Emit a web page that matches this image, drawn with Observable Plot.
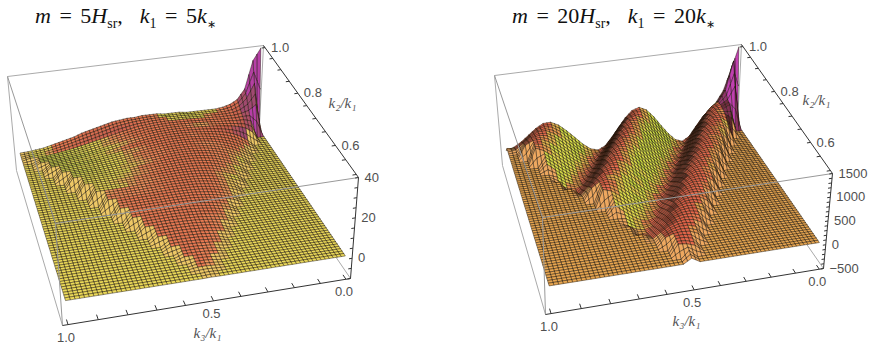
<!DOCTYPE html>
<html><head><meta charset="utf-8">
<script src="https://cdn.jsdelivr.net/npm/d3@7"></script>
<script src="https://cdn.jsdelivr.net/npm/@observablehq/plot@0.6"></script>
<style>
html,body{margin:0;padding:0;background:#fff;width:872px;height:351px;overflow:hidden}
#page{display:flex;width:872px}
.panel{width:436px;position:relative}
.title{height:36px;font:22px "Liberation Serif",serif;color:#111;white-space:nowrap;box-sizing:border-box;padding-top:3px;word-spacing:3px}
.title sub{font-size:14px;line-height:0}
.title sub.s{font-size:11px}
svg{display:block}
</style></head><body><div id="page"></div>
<script>
// Rows run from k2/k1 = 1 (back) to 0.5 (front); each row lists k3/k1 ascending, inside the triangle only.
const heights5 = [
[55,34,20,15,13,12,11.5,11.5,11.5,11.5,11.5,12,12,12,12.5,12.5,12.5,12,12,11.5,11,10,9,8,7,5.5,4.5,3.5,2.5,1.5,1,.5,.3],
[24,17,13.5,12,11.5,11.5,11.5,11.5,11.5,11.8,12,12,12.3,12.3,12.3,12,11.8,11.4,10.8,10,9,8,7,6,5,4,3,2.2,1.5,1,.6],
[15,12.5,11.5,11,11,11,11.2,11.4,11.6,11.8,12,12,12.1,12,11.8,11.4,11,10.2,9.4,8.5,7.6,6.6,5.7,4.8,4,3.2,2.5,1.9,1.4,1.1,1],
[9,10,10,10.3,10.5,10.8,11,11.2,11.4,11.6,11.7,11.7,11.6,11.3,11,10.4,9.8,9,8.2,7.3,6.5,5.6,4.8,4.1,3.4,2.8,2.3,1.9,1.6],
[5,7.5,8.8,9.5,10,10.4,10.7,11,11.2,11.3,11.4,11.4,11.2,11,10.6,10,9.4,8.7,7.9,7.1,6.3,5.5,4.8,4.2,3.6,3.1,2.7,2.4,2.2],
[3,5.5,7.3,8.5,9.3,9.9,10.3,10.6,10.8,11,11,10.9,10.6,10.2,9.7,9.1,8.5,7.7,7,6.3,5.6,5,4.5,4,3.6,3.2,3],
[1.6,4,6,7.4,8.4,9.2,9.8,10.2,10.5,10.6,10.6,10.5,10.2,9.8,9.3,8.7,8.1,7.5,6.8,6.2,5.6,5,4.6,4.2,3.9,3.7,3.6],
[2.6,4.8,6.4,7.6,8.5,9.2,9.7,10,10.2,10.2,10.1,9.8,9.4,9,8.5,7.9,7.3,6.8,6.2,5.7,5.3,4.9,4.6,4.3,4.1],
[1.5,3.6,5.4,6.8,7.9,8.7,9.3,9.6,9.8,9.8,9.7,9.5,9.1,8.7,8.2,7.7,7.2,6.7,6.2,5.8,5.4,5.1,4.8,4.6,4.6],
[2.6,4.4,6,7.2,8.1,8.8,9.2,9.4,9.5,9.4,9.2,8.8,8.4,8,7.5,7.1,6.7,6.3,5.9,5.6,5.4,5.2,5.1],
[1.8,3.5,5.1,6.4,7.5,8.2,8.7,9,9.1,9,8.8,8.5,8.2,7.8,7.4,7,6.6,6.3,6,5.8,5.6,5.5,5.4],
[2.6,4.2,5.6,6.8,7.6,8.2,8.5,8.6,8.6,8.4,8.2,7.9,7.5,7.2,6.9,6.6,6.3,6.1,5.9,5.8,5.7],
[1.8,3.4,4.8,6,7,7.6,8,8.2,8.2,8.1,7.9,7.6,7.3,7,6.8,6.5,6.3,6.1,6,5.9,5.9],
[2.6,4,5.3,6.3,7,7.5,7.7,7.8,7.7,7.5,7.3,7,6.8,6.6,6.4,6.2,6.1,6,6],
[1.9,3.3,4.6,5.7,6.4,6.9,7.2,7.3,7.3,7.2,7,6.8,6.6,6.4,6.3,6.2,6.1,6,6],
[2.6,3.9,5,5.8,6.4,6.8,6.9,6.9,6.9,6.7,6.5,6.4,6.2,6.1,6,5.9,5.9],
[1.9,3.2,4.3,5.2,5.8,6.2,6.4,6.5,6.5,6.4,6.3,6.1,6,5.9,5.8,5.7,5.7],
[2.5,3.6,4.5,5.2,5.7,6,6.1,6.1,6,5.9,5.8,5.7,5.6,5.5,5.4],
[1.8,2.9,3.9,4.6,5.1,5.5,5.7,5.7,5.7,5.6,5.5,5.4,5.3,5.2,5.2],
[2.2,3.2,4,4.6,5,5.2,5.3,5.3,5.2,5.1,5,4.9,4.8],
[1.5,2.6,3.4,4,4.5,4.8,4.9,4.9,4.9,4.8,4.7,4.6,4.5],
[1.9,2.8,3.4,3.9,4.2,4.4,4.5,4.5,4.4,4.3,4.2],
[1.3,2.2,2.9,3.4,3.7,3.9,4,4,4,3.9,3.8],
[1.6,2.4,2.9,3.3,3.5,3.6,3.6,3.5,3.4],
[1,1.8,2.4,2.8,3,3.2,3.2,3.1,3],
[1.3,1.9,2.3,2.6,2.7,2.7,2.6],
[.8,1.4,1.8,2.1,2.3,2.3,2.2],
[1,1.4,1.7,1.8,1.8],
[.6,1,1.3,1.4,1.4],
[.6,.9,.9],
[.3,.6,.6],
[.3],
[.1]];
const heights20 = [
[2400,1050,650,430,290,150,-30,-220,-300,-250,-110,70,270,430,500,450,310,120,-70,-240,-310,-270,-150,10,170,310,390,380,290,160,30,-70,-130],
[1300,720,500,420,265,70,-130,-275,-285,-190,-20,170,355,475,485,385,220,20,-160,-285,-295,-220,-70,90,250,355,385,335,230,90,-20],
[850,600,510,465,350,165,-30,-215,-290,-245,-105,70,260,415,485,435,300,115,-70,-235,-300,-260,-145,10,165,300,380,370,280,155,30],
[560,490,490,410,260,65,-125,-270,-280,-180,-20,165,345,460,470,375,210,20,-155,-280,-290,-210,-65,85,240,345,375,325,220],
[360,460,495,455,340,160,-30,-210,-285,-240,-105,65,255,410,475,425,295,115,-65,-230,-295,-255,-140,10,160,295,370,360,275],
[380,480,480,405,255,65,-120,-265,-270,-180,-20,160,340,450,460,365,205,20,-150,-270,-280,-205,-65,85,235,340,365],
[280,440,480,440,330,155,-30,-200,-275,-230,-100,65,250,395,460,415,285,110,-65,-220,-285,-250,-140,10,155,285,360],
[370,465,465,390,245,65,-120,-255,-265,-175,-20,155,330,435,445,355,200,20,-145,-265,-275,-200,-65,80,230],
[260,430,470,430,325,155,-25,-200,-270,-225,-100,65,245,385,450,405,280,110,-65,-215,-280,-245,-135,10,155],
[370,455,455,385,240,60,-115,-250,-260,-170,-20,150,320,425,435,345,195,20,-140,-260,-265,-195,-60],
[270,420,460,420,315,150,-25,-195,-265,-220,-95,60,240,380,440,395,275,105,-60,-210,-270,-240,-130],
[365,445,445,375,235,60,-115,-245,-250,-165,-15,150,315,420,425,340,190,15,-140,-250,-260],
[280,410,440,410,305,145,-25,-185,-255,-210,-95,60,230,365,425,380,265,100,-60,-205,-265],
[350,430,430,360,225,60,-110,-235,-245,-160,-15,145,300,405,410,330,185,15,-135],
[270,395,425,395,295,140,-25,-180,-245,-205,-90,55,220,355,410,370,255,100,-55],
[340,415,415,350,220,55,-105,-225,-235,-155,-15,140,290,390,395,315,180],
[265,385,415,385,290,135,-25,-175,-240,-200,-90,55,215,345,400,360,250],
[330,400,400,335,210,55,-100,-220,-225,-150,-15,130,280,375,380],
[250,365,395,365,275,130,-25,-165,-230,-190,-85,55,205,325,380],
[310,375,375,320,200,50,-95,-205,-215,-140,-15,125,265],
[235,345,375,345,260,120,-20,-160,-215,-180,-80,50,195],
[295,355,355,300,190,50,-90,-195,-205,-135,-15],
[225,325,355,325,245,115,-20,-150,-205,-170,-75],
[275,330,330,280,175,45,-85,-180,-190],
[205,300,320,300,225,105,-20,-135,-185],
[250,300,300,255,160,40,-75],
[185,270,290,270,200,95,-15],
[220,270,270,230,145],
[165,240,260,240,180],
[190,235,235],
[140,200,220],
[160],
[100]];
const k3Ticks = [0,.1,.2,.3,.4,.5,.6,.7,.8,.9,1];
const k3Labels = [0,.5,1];
const k2Ticks = [.5,.55,.6,.65,.7,.75,.8,.85,.9,.95,1];
const k2Labels = [.6,.8,1];
const zTicks5 = [-10,-5,0,5,10,15,20,25,30,35,40];
const zLabels5 = [0,20,40];
const zTicks20 = [-500,-400,-300,-200,-100,0,100,200,300,400,500,600,700,800,900,1000,1100,1200,1300,1400,1500];
const zLabels20 = [-500,0,500,1000,1500];

const panels = [
 {rows:heights5, zr:[-10,40], x0:0, kappa:1.6, gentle:[.25,.8],
  top:[[7,76],[263,45],[358,177],[55,223]], bot:[[16,170],[258,143],[350,278],[62,325]],
  zTicks:zTicks5, zLabels:zLabels5, k3lab:[207,333], k2lab:[342,103],
  ramp:[[-7,-3,-1.5,-.3,-.18,-.08,0,.5],["#b63fa6","#a04a70","#c8604e","#ea7a52","#f08c5c","#ecb460","#ead858","#d0d850"]], mixed:"#eec866",
  title:'<i>m</i> = 5<i>H</i><sub>sr</sub>, &nbsp;<i>k</i><sub>1</sub> = 5<i>k</i><sub class="s">∗</sub>', tx:35},
 {rows:heights20, zr:[-500,1500], x0:436, kappa:1.5, gentle:null,
  top:[[494,75],[741,44],[832,173],[542,217]], bot:[[502,165],[736,143],[823,268],[545,314]],
  zTicks:zTicks20, zLabels:zLabels20, k3lab:[686,321], k2lab:[816,100],
  ramp:[[-7,-2.5,-.85,-.55,-.08,0,.1,.28,.55,.85,1.4],["#c040b0","#803050","#4a1e16","#d85c44","#ee7050","#e8a650","#ec8050","#e8a650","#e0dc4c","#c0d83c","#6a8a20"]], mixed:"#eea860",
  title:'<i>m</i> = 20<i>H</i><sub>sr</sub>, &nbsp;<i>k</i><sub>1</sub> = 20<i>k</i><sub class="s">∗</sub>', tx:76}
];

function homography(q){
  const [[x0,y0],[x1,y1],[x2,y2],[x3,y3]] = q;
  const dx1=x1-x2,dx2=x3-x2,sx=x0-x1+x2-x3,dy1=y1-y2,dy2=y3-y2,sy=y0-y1+y2-y3;
  const den=dx1*dy2-dx2*dy1, g=(sx*dy2-dx2*sy)/den, h=(dx1*sy-sx*dy1)/den;
  const a=x1-x0+g*x1,b=x3-x0+h*x3,d=y1-y0+g*y1,e=y3-y0+h*y3;
  return (u,v)=>{const w=g*u+h*v+1;return [(a*u+b*v+x0)/w,(d*u+e*v+y0)/w];};
}
function makeProjection(p){
  const T=homography(p.top),B=homography(p.bot),[z0,z1]=p.zr;
  return (k3,k2,z)=>{
    const u=(1.018-k3)/1.036,v=(1.01-k2)/.52,w=(Math.min(z,z1)-z0)/(z1-z0);
    const t=T(u,v),b=B(u,v);
    return [b[0]+(t[0]-b[0])*w,b[1]+(t[1]-b[1])*w];
  };
}
function shade(p,da,db){
  if(!p.gentle) return da-p.kappa*db;
  if(da<-1.5) return da;
  return -p.kappa*db+(da<0?p.gentle[0]*-da:p.gentle[1]*da);
}
function build(p){
  const project=makeProjection(p), n=32, range=p.zr[1]-p.zr[0];
  const color=d3.scaleLinear().domain(p.ramp[0]).range(p.ramp[1]).clamp(true);
  const at=(r,j)=>{const s=Math.ceil(r/2),v=p.rows[r][j-s];return v===undefined?null:v;};
  const Z=(r,j)=>at(r,j)??0;
  const quads=[];let id=0;
  for(let r=0;r<n;r++)for(let j=0;j<n;j++){
    const c=[[r,j],[r,j+1],[r+1,j+1],[r+1,j]];
    const inside=c.filter(([a,b])=>at(a,b)!==null).length;
    const zs=c.map(([a,b])=>Z(a,b));
    const da=((zs[1]-zs[0])+(zs[2]-zs[3]))/2/range*n;
    const db=((zs[0]-zs[3])+(zs[1]-zs[2]))/2/range*n;
    const high=Math.max(...zs)>.3*p.zr[1];
    const fill=(inside>0&&inside<4&&!high)?p.mixed:color(shade(p,da,db));
    // one facet per data cell; it is outlined as a 2x2 mesh so the wireframe is as fine as the original's
    const P=c.map(([a,b],i)=>project(b/n,1-a/(2*n),zs[i]));
    const mix=(s,q)=>[0,1].map(k=>(P[0][k]*(1-s)+P[1][k]*s)*(1-q)+(P[3][k]*(1-s)+P[2][k]*s)*q);
    for(const q of [0,.5])for(const s of [0,.5]){
      [[s,q],[s+.5,q],[s+.5,q+.5],[s,q+.5],[s,q]].forEach(([a,b])=>{
        const [x,y]=mix(a,b);quads.push({id,x,y,fill});
      });
      id++;
    }
  }
  const seg=(a,b)=>{const s=project(...a),e=project(...b);return {x1:s[0],y1:s[1],x2:e[0],y2:e[1]};};
  const [lo,hi]=[-.018,1.018],[f,b]=[.49,1.01],[z0,z1]=p.zr;
  const behind=[seg([hi,b,z1],[lo,b,z1]),seg([hi,b,z1],[hi,b,z0]),seg([lo,b,z1],[lo,b,z0]),seg([hi,b,z0],[hi,f,z0]),seg([lo,b,z0],[lo,f,z0])];
  const before=[seg([hi,f,z1],[lo,f,z1]),seg([hi,b,z1],[hi,f,z1]),seg([hi,f,z1],[hi,f,z0])];
  const axes=[seg([hi,f,z0],[lo,f,z0]),seg([lo,f,z0],[lo,f,z1]),seg([lo,b,z1],[lo,f,z1])];
  const ticks=[
    ...k3Ticks.map(v=>seg([v,f,z0],[v,f+.014,z0])),
    ...k2Ticks.map(v=>seg([lo,v,z1],[lo+.014,v,z1])),
    ...p.zTicks.map(v=>seg([lo,f,v],[lo+.012,f,v]))
  ];
  const lab=(pos,text)=>{const [x,y]=project(...pos);return {x,y,text};};
  const k3L=k3Labels.map(v=>lab([v,f,z0],v.toFixed(1)));
  const k2L=k2Labels.map(v=>lab([lo,v,z1],v.toFixed(1)));
  const zL=p.zLabels.map(v=>lab([lo,f,v],String(v).replace("-","−")));
  const txt={fontFamily:"Liberation Sans, sans-serif",fontSize:13,fill:"#505050"};
  const plot=Plot.plot({
    width:436,height:315,margin:0,
    x:{domain:[p.x0,p.x0+436],range:[0,436],axis:null},
    y:{domain:[36,351],range:[0,315],axis:null},
    color:{type:"identity"},
    marks:[
      Plot.link(behind,{x1:"x1",y1:"y1",x2:"x2",y2:"y2",stroke:"#aaa",strokeWidth:1}),
      Plot.line(quads,{x:"x",y:"y",z:"id",fill:"fill",stroke:"#1c1408",strokeWidth:.45,strokeLinejoin:"round"}),
      Plot.link(before,{x1:"x1",y1:"y1",x2:"x2",y2:"y2",stroke:"#999",strokeWidth:1}),
      Plot.link(axes,{x1:"x1",y1:"y1",x2:"x2",y2:"y2",stroke:"#333",strokeWidth:1}),
      Plot.link(ticks,{x1:"x1",y1:"y1",x2:"x2",y2:"y2",stroke:"#333",strokeWidth:1}),
      Plot.text(k3L,{x:"x",y:"y",text:"text",dy:13,dx:-2,...txt}),
      Plot.text(k2L,{x:"x",y:"y",text:"text",dx:6,textAnchor:"start",...txt}),
      Plot.text(zL,{x:"x",y:"y",text:"text",dx:6,textAnchor:"start",...txt}),
      Plot.text([{x:p.k3lab[0],y:p.k3lab[1],text:"k₃/k₁"}],{x:"x",y:"y",text:"text",fontStyle:"italic",fontFamily:"Liberation Serif, serif",fontSize:15,fill:"#555"}),
      Plot.text([{x:p.k2lab[0],y:p.k2lab[1],text:"k₂/k₁"}],{x:"x",y:"y",text:"text",fontStyle:"italic",fontFamily:"Liberation Serif, serif",fontSize:15,fill:"#555"})
    ]
  });
  const wrap=document.createElement("div");wrap.className="panel";
  const t=document.createElement("div");t.className="title";t.style.paddingLeft=p.tx+"px";t.innerHTML=p.title;
  wrap.append(t,plot);
  document.getElementById("page").append(wrap);
}
panels.forEach(build);
</script></body></html>
